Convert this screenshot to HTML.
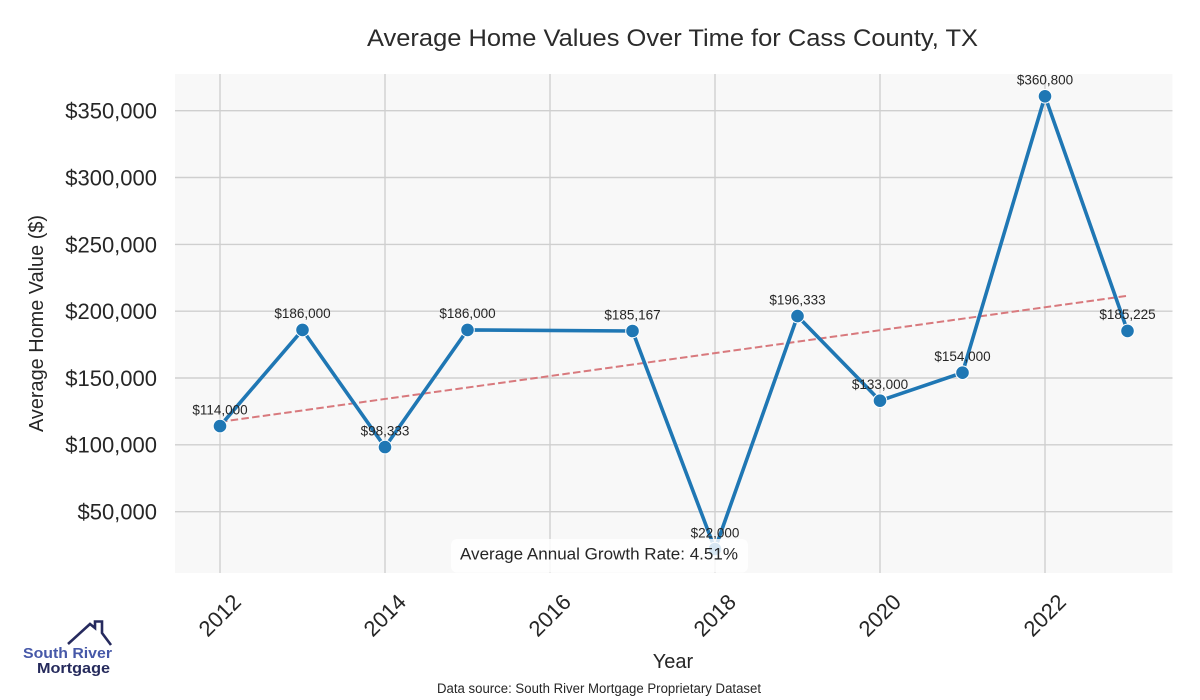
<!DOCTYPE html>
<html>
<head>
<meta charset="utf-8">
<style>
  html,body{margin:0;padding:0;background:#ffffff;}
  svg{display:block;}
  text{font-family:"Liberation Sans", Arial, sans-serif;}
</style>
</head>
<body>
<svg width="1200" height="700" viewBox="0 0 1200 700" xmlns="http://www.w3.org/2000/svg">
  <rect x="0" y="0" width="1200" height="700" fill="#ffffff"/>
  <!-- plot background -->
  <rect x="175" y="74" width="997.5" height="499" fill="#f8f8f8"/>
  <!-- grid -->
  <g stroke="#cfcfcf" stroke-width="1.4">
    <line x1="175" x2="1172.5" y1="511.7" y2="511.7"/>
    <line x1="175" x2="1172.5" y1="444.8" y2="444.8"/>
    <line x1="175" x2="1172.5" y1="378.0" y2="378.0"/>
    <line x1="175" x2="1172.5" y1="311.2" y2="311.2"/>
    <line x1="175" x2="1172.5" y1="244.4" y2="244.4"/>
    <line x1="175" x2="1172.5" y1="177.5" y2="177.5"/>
    <line x1="175" x2="1172.5" y1="110.7" y2="110.7"/>
    <line y1="74" y2="573" x1="220" x2="220"/>
    <line y1="74" y2="573" x1="385" x2="385"/>
    <line y1="74" y2="573" x1="550" x2="550"/>
    <line y1="74" y2="573" x1="715" x2="715"/>
    <line y1="74" y2="573" x1="880" x2="880"/>
    <line y1="74" y2="573" x1="1045" x2="1045"/>
  </g>

  <!-- trend line -->
  <line x1="220" y1="421.9" x2="1127.5" y2="295.8" stroke="#d8797d" stroke-width="2" stroke-dasharray="7.5,3.3"/>

  <!-- main series -->
  <polyline fill="none" stroke="#1f77b4" stroke-width="3.6" stroke-linejoin="round"
    points="220,426.1 302.5,329.9 385,447.1 467.5,329.9 632.5,331.0 715,549.1 797.5,316.1 880,400.7 962.5,372.7 1045,96.3 1127.5,330.9"/>
  <g fill="#1f77b4" stroke="#ffffff" stroke-width="1">
    <circle cx="220" cy="426.1" r="6.8"/>
    <circle cx="302.5" cy="329.9" r="6.8"/>
    <circle cx="385" cy="447.1" r="6.8"/>
    <circle cx="467.5" cy="329.9" r="6.8"/>
    <circle cx="632.5" cy="331.0" r="6.8"/>
    <circle cx="715" cy="549.1" r="6.8"/>
    <circle cx="797.5" cy="316.1" r="6.8"/>
    <circle cx="880" cy="400.7" r="6.8"/>
    <circle cx="962.5" cy="372.7" r="6.8"/>
    <circle cx="1045" cy="96.3" r="6.8"/>
    <circle cx="1127.5" cy="330.9" r="6.8"/>
  </g>

  <!-- data labels -->
  <g font-size="13.5" fill="#262626" text-anchor="middle">
    <text x="220" y="414.4">$114,000</text>
    <text x="302.5" y="318.2">$186,000</text>
    <text x="385" y="435.4">$98,333</text>
    <text x="467.5" y="318.2">$186,000</text>
    <text x="632.5" y="319.3">$185,167</text>
    <text x="715" y="537.4">$22,000</text>
    <text x="797.5" y="304.4">$196,333</text>
    <text x="880" y="389.0">$133,000</text>
    <text x="962.5" y="361.0">$154,000</text>
    <text x="1045" y="84.6">$360,800</text>
    <text x="1127.5" y="319.2">$185,225</text>
  </g>

  <!-- annotation box -->
  <rect x="451" y="539" width="297" height="33.5" rx="6" ry="6" fill="#ffffff" fill-opacity="0.82"/>
  <text x="460" y="559.3" font-size="17" fill="#262626" textLength="278" lengthAdjust="spacingAndGlyphs">Average Annual Growth Rate: 4.51%</text>

  <!-- y tick labels -->
  <g font-size="22" fill="#262626" text-anchor="end">
    <text x="157" y="511.7" dy="0.36em">$50,000</text>
    <text x="157" y="444.8" dy="0.36em">$100,000</text>
    <text x="157" y="378.0" dy="0.36em">$150,000</text>
    <text x="157" y="311.2" dy="0.36em">$200,000</text>
    <text x="157" y="244.4" dy="0.36em">$250,000</text>
    <text x="157" y="177.5" dy="0.36em">$300,000</text>
    <text x="157" y="110.7" dy="0.36em">$350,000</text>
  </g>

  <!-- x tick labels -->
  <g font-size="22" fill="#262626" text-anchor="middle">
    <text transform="translate(219.5,615) rotate(-45)" dy="0.36em">2012</text>
    <text transform="translate(384.5,615) rotate(-45)" dy="0.36em">2014</text>
    <text transform="translate(549.5,615) rotate(-45)" dy="0.36em">2016</text>
    <text transform="translate(714.5,615) rotate(-45)" dy="0.36em">2018</text>
    <text transform="translate(879.5,615) rotate(-45)" dy="0.36em">2020</text>
    <text transform="translate(1044.5,615) rotate(-45)" dy="0.36em">2022</text>
  </g>

  <!-- axis labels -->
  <text transform="translate(43,323.5) rotate(-90)" text-anchor="middle" font-size="20" fill="#262626" textLength="217" lengthAdjust="spacingAndGlyphs">Average Home Value ($)</text>
  <text x="673" y="668" text-anchor="middle" font-size="20" fill="#262626">Year</text>

  <!-- title -->
  <text x="367" y="46" font-size="24" fill="#2b2b2b" textLength="611" lengthAdjust="spacingAndGlyphs">Average Home Values Over Time for Cass County, TX</text>

  <!-- data source -->
  <text x="437" y="693" font-size="13.5" fill="#262626" textLength="324" lengthAdjust="spacingAndGlyphs">Data source: South River Mortgage Proprietary Dataset</text>

  <!-- logo -->
  <polyline fill="none" stroke="#262a5e" stroke-width="2.6" stroke-linejoin="miter"
    points="68,644 90,624 95,628 95,621.5 102,621.5 102,633 111,645"/>
  <text x="23" y="658" font-size="15" font-weight="bold" fill="#4658a8" textLength="89" lengthAdjust="spacingAndGlyphs">South River</text>
  <text x="37" y="673" font-size="15" font-weight="bold" fill="#252a5c" textLength="73" lengthAdjust="spacingAndGlyphs">Mortgage</text>
</svg>
</body>
</html>
